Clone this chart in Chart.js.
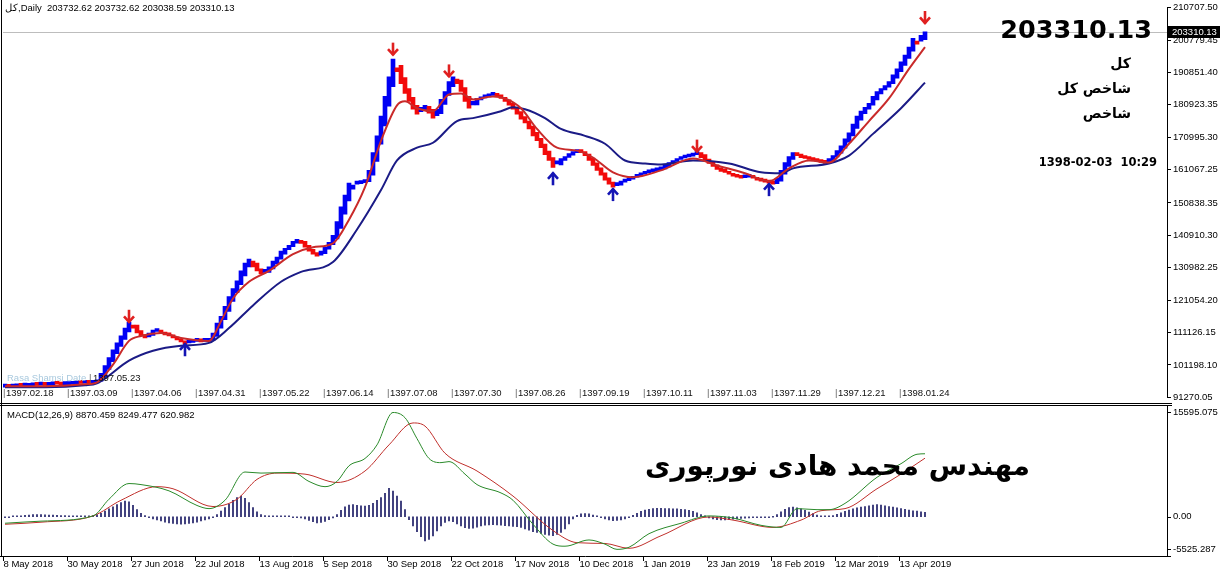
<!DOCTYPE html>
<html><head><meta charset="utf-8">
<script src="https://cdn.jsdelivr.net/npm/chart.js@4.4.1/dist/chart.umd.min.js"></script>
<style>
html,body{margin:0;padding:0;background:#fff;width:1220px;height:573px;overflow:hidden}
#c1{position:absolute;left:0;top:0}
#c2{position:absolute;left:0;top:405px}
</style></head><body>
<canvas id="c1" width="1220" height="405"></canvas>
<canvas id="c2" width="1220" height="168"></canvas>
<script>
// ---------------- DATA ----------------
// Heiken-Ashi style candles: body from opens[i] to closes[i]
const closes = [
94380,94350,94620,94700,94650,94690,94930,95010,94950,94980,94920,95240,95300,95260,95010,95280,95250,95540,95600,95560,95590,95530,95880,
96480,98590,101010,103430,105840,107960,110080,112490,114310,
112490,110980,110080,109470,
110980,111890,
111590,110980,110380,110080,109470,108870,108260,107660,
108560,108260,108560,108260,108560,108870,
110980,114000,116120,119140,122160,124580,127000,130020,132440,133650,
131230,130020,129110,
130020,131230,133040,134250,136060,136970,137880,139090,139690,
138480,137270,136060,135160,134550,
136060,137270,138780,
140900,145130,149660,153290,156920,
156310,157220,156920,157820,
160840,166280,171420,177470,183510,189550,194990,
191060,187440,184420,182000,179580,178070,
180190,180790,
178370,176860,
179580,182600,185020,188040,189550,
187440,185020,182000,179880,
182000,182910,183210,183510,184110,184420,
183510,182910,182000,180790,179580,178070,176560,
175350,173540,171420,169910,167800,165680,163870,161750,
163260,164470,165080,165980,166590,166890,
166280,165380,163870,162360,160840,159330,157820,156610,155710,
156920,157520,157820,158430,159030,159330,159940,160240,160540,160840,161150,161450,
162360,163260,163870,164470,164770,165080,165380,165980,166590,
164770,163870,162960,162050,161150,
160540,160240,159640,159030,158730,158430,
159030,158730,158430,157820,157520,157220,156920,156610,
158430,160840,163260,165080,166280,
165380,164770,164470,164170,163870,163560,163260,162960,
164470,165380,166890,168400,170510,172330,175050,177470,178980,180190,181390,183510,185020,185930,186830,188040,190160,191970,194090,196200,198620,201340,199530,202250,203310.13
];
const opens = [
94380,94380,94370,94490,94660,94680,94670,94810,94970,94980,94970,94950,95080,95270,95280,95140,95150,95270,95400,95570,95580,95580,95560,
95710,96180,97540,99800,102220,104640,106900,109020,111290,
113400,113400,111740,110530,
109780,110230,
111440,111740,111290,110680,110230,109780,109170,108570,
107960,108110,108410,108410,108410,108410,
108720,109930,112490,115060,117630,120650,123370,125790,128510,131230,
133050,132440,130630,
129570,129570,130630,132140,133650,135160,136520,137430,138490,
139390,139090,137880,136670,135610,
134860,135310,136670,
138030,139840,143020,147400,151480,
155110,156620,156770,157070,
157370,159330,163560,168850,174450,180490,186530,
192270,193030,189250,185930,183210,180790,
178830,179130,
180490,179580,
177620,178220,181090,183810,186530,
188800,188500,186230,183510,
180940,180940,182460,183060,183360,183810,
184270,183970,183210,182460,181400,180190,178830,
177320,175960,174450,172480,170670,168860,166740,164780,
162810,162510,163870,164780,165530,166290,
166740,166590,165830,164630,163120,161600,160090,158580,157220,
156160,156320,157220,157670,158130,158730,159180,159640,160090,160390,160690,161000,
161300,161910,162810,163570,164170,164620,164930,165230,165680,
166290,165680,164320,163420,162510,
161600,160850,160390,159940,159340,158880,
158580,158730,158880,158580,158130,157670,157370,157070,
156770,157520,159640,162050,164170,
165680,165830,165080,164620,164320,164020,163720,163410,
163110,163720,164930,166140,167650,169460,171420,173690,176260,178230,179590,180790,182450,184270,185480,186380,187440,189100,191070,193030,195150,197410,199980,200440,200890
];
const lastPrice = 203310.13;

const maFastBars = [0,10,20,23,27,31,34,39,44,51,54,57,61,66,72,77,82,86,90,94,98,100,103,107,111,114,117,122,125,129,133,138,143,147,152,157,164,172,178,185,191,196,201,206,211,216,221,226,230];
const maFastVals = [94662,94662,95267,95871,101310,108564,110075,110981,109470,108564,114607,121558,126696,130020,135157,137273,138482,145734,155707,169910,180789,181998,179883,178976,184113,184416,182602,183509,182905,179883,173536,167795,166888,164773,160240,158729,160844,164470,162355,159938,157520,161448,163866,163262,169004,175954,182905,191971,198619];

const maSlowBars = [0,10,20,23,31,37,44,51,56,62,69,74,82,88,94,98,103,107,113,117,124,127,130,135,139,145,150,155,160,164,172,181,189,194,197,206,211,217,224,230];
const maSlowVals = [94360,94360,94964,95569,102520,105541,107053,107959,112492,119443,126696,129718,132740,142712,154800,163866,167795,169306,175954,176861,178976,180185,179580,176861,173536,171421,169004,163866,162960,162657,163866,162960,160240,159938,161448,162960,165377,172026,179883,187741];

const downArrowBars = [31,97,111,173,230];
const downArrowVals = [115956,197848,191175,168124,207553];
const upArrowBars = [45,137,152,191];
const upArrowVals = [106000,158418,153564,155081];

const priceTicks = [210707.50,200779.45,190851.40,180923.35,170995.30,161067.25,150838.35,140910.30,130982.25,121054.20,111126.15,101198.10,91270.05];

const macdBars = [0,9,22,26,31,34,41,48,51,55,60,64,72,76,80,83,86,90,93,97,100,103,106,109,111,115,118,124,127,132,137,140,146,150,153,156,161,169,176,182,189,194,198,203,206,210,218,224,228,230];
const macdVals = [-912,-618,118,2471,4678,4531,3648,1589,1147,2324,6300,6150,6250,4972,4236,4972,7178,8208,10120,14680,13945,11003,8208,7620,7767,6002,4531,3354,2324,-1059,-3854,-4148,-3266,-3854,-4590,-4295,-2383,-912,118,-177,-1206,-1500,1147,1000,1000,1883,5560,7473,8800,8870.459];

const signalBars = [0,9,22,29,38,42,52,58,63,68,75,83,90,96,102,105,110,118,127,137,143,150,156,164,176,182,192,199,204,210,218,224,230];
const signalVals = [-1059,-765,118,2324,4236,3942,1442,2471,5266,6149,6002,4825,6443,10120,13209,12768,8944,6443,2913,-1942,-3650,-3760,-4442,-2677,-29,-471,-1500,-471,853,1147,3942,6002,8249.477];

const histVals = [
-50,-30,20,60,120,200,250,300,320,300,280,250,220,200,180,150,130,120,100,90,100,120,160,
300,500,800,1100,1400,1700,2000,2200,2100,1600,1000,500,
150,-100,-300,
-450,-600,-750,-850,-950,-1000,-1050,-1000,-950,-850,-750,-600,-450,-300,-100,
300,800,1300,1800,2300,2700,2900,2600,2000,1300,700,300,
150,80,50,30,60,40,20,-20,-50,-150,-300,-500,
-700,-850,-800,-650,-400,-150,
300,900,1400,1650,1700,1600,1550,1500,1600,1900,2300,2700,3300,4000,3600,2900,2200,1000,
-400,-1300,-2100,-2800,-3400,-3200,-2700,-2000,
-1300,-800,-600,-700,-1000,-1300,-1550,-1650,-1600,-1450,-1300,-1200,-1150,-1100,-1150,-1200,-1250,-1300,-1350,-1400,
-1500,-1700,-1900,-2100,-2200,-2350,-2500,-2600,-2650,-2500,-2200,-1700,-1000,-300,
200,400,450,400,250,100,-100,
-300,-450,-550,-500,-450,-300,-100,
200,500,750,950,1050,1150,1200,1200,1150,1150,1100,1100,1050,1000,900,750,550,
300,80,-150,-300,-400,-450,-450,-400,-350,-300,-250,-200,-150,-120,-100,-80,-60,-40,0,
300,700,1050,1300,1350,1250,1100,900,650,450,250,
120,50,20,150,350,550,750,950,1100,1250,1350,1450,1550,1650,1700,1650,1550,1450,1350,1250,1150,1050,950,850,800,700,621
];
const macdTicks = [15595.075, 0, -5525.287];
const macdMin = -5525.287, macdMax = 15595.075;

const labelStep = 16;
const shamsiLabels = ['1397.02.18','1397.03.09','1397.04.06','1397.04.31','1397.05.22','1397.06.14','1397.07.08','1397.07.30','1397.08.26','1397.09.19','1397.10.11','1397.11.03','1397.11.29','1397.12.21','1398.01.24'];
const gregLabels = ['8 May 2018','30 May 2018','27 Jun 2018','22 Jul 2018','13 Aug 2018','5 Sep 2018','30 Sep 2018','22 Oct 2018','17 Nov 2018','10 Dec 2018','1 Jan 2019','23 Jan 2019','18 Feb 2019','12 Mar 2019','13 Apr 2019'];

const headerText = 'کل,Daily  203732.62 203732.62 203038.59 203310.13';
const macdHeader = 'MACD(12,26,9) 8870.459 8249.477 620.982';
const bigPrice = '203310.13';
const nameLines = ['کل','شاخص کل','شاخص'];
const dateTimeText = '1398-02-03  10:29';
const authorText = 'مهندس محمد هادی نورپوری';
const shamsiIndicator = 'Rasa Shamsi Date';
const shamsiCurrent = '1397.05.23';

// ---------------- STYLE ----------------
const N_SLOTS = 291;
const BLUE = '#0000f4', RED = '#f20a0a';
const MT_FONT = "'Liberation Sans', Arial, sans-serif";
Chart.defaults.font.family = MT_FONT;
Chart.defaults.color = '#000';

function arrow(ctx, x, y, dir, color){
  ctx.save();
  ctx.strokeStyle = color; ctx.lineWidth = 2.6; ctx.lineJoin='miter';
  ctx.beginPath(); ctx.moveTo(x, y - 7*dir); ctx.lineTo(x, y + 5.5*dir); ctx.stroke();
  ctx.beginPath(); ctx.moveTo(x-5, y - 0.5*dir); ctx.lineTo(x, y + 5*dir); ctx.lineTo(x+5, y - 0.5*dir); ctx.stroke();
  ctx.restore();
}
function hline(ctx,y,x1,x2,c){ctx.save();ctx.strokeStyle=c||'#000';ctx.lineWidth=1;ctx.beginPath();ctx.moveTo(x1,y);ctx.lineTo(x2,y);ctx.stroke();ctx.restore();}
function vline(ctx,x,y1,y2,c){ctx.save();ctx.strokeStyle=c||'#000';ctx.lineWidth=1;ctx.beginPath();ctx.moveTo(x,y1);ctx.lineTo(x,y2);ctx.stroke();ctx.restore();}

const topDeco = {
  id:'topDeco',
  beforeDatasetsDraw(chart){
    const {ctx, chartArea:a, scales:{y}} = chart;
    const py = Math.round(y.getPixelForValue(lastPrice)) + 0.5;
    hline(ctx, py, a.left, a.right, '#bdbdbd');
  },
  afterDatasetsDraw(chart){
    const {ctx, scales:{x,y}} = chart;
    downArrowBars.forEach((b,k)=>arrow(ctx, x.getPixelForValue(b), y.getPixelForValue(downArrowVals[k]), 1, '#e02020'));
    upArrowBars.forEach((b,k)=>arrow(ctx, x.getPixelForValue(b), y.getPixelForValue(upArrowVals[k]), -1, '#1414b4'));
  },
  afterDraw(chart){
    const {ctx, chartArea:a, scales:{x,y}} = chart;
    ctx.save();
    ctx.textBaseline = 'middle';
    ctx.fillStyle = '#000';
    ctx.font = "9.5px " + MT_FONT;
    ctx.textAlign = 'left';
    ctx.fillText(headerText, 5, 8);
    shamsiLabels.forEach((t,k)=>{
      const px = x.getPixelForValue(k*labelStep);
      ctx.fillStyle = '#666'; ctx.fillText('|', px-2, 393);
      ctx.fillStyle = '#111'; ctx.fillText(t, px+1, 393);
    });
    ctx.fillStyle = '#a9c9de';
    ctx.fillText(shamsiIndicator, 7, 378);
    ctx.fillStyle = '#666'; ctx.fillText('|', 89, 378);
    ctx.fillStyle = '#111'; ctx.fillText(shamsiCurrent, 93, 378);
    ctx.fillStyle = '#000';
    ctx.textAlign = 'right';
    ctx.font = "bold 25.5px 'DejaVu Sans', sans-serif";
    ctx.fillText(bigPrice, 1152, 31);
    ctx.font = "bold 14px 'DejaVu Sans', sans-serif";
    ctx.fillText(nameLines[0], 1131, 64);
    ctx.fillText(nameLines[1], 1131, 89);
    ctx.fillText(nameLines[2], 1131, 114);
    ctx.font = "bold 11.5px 'DejaVu Sans', sans-serif";
    ctx.fillText(dateTimeText, 1157, 163);
    const py = Math.round(y.getPixelForValue(lastPrice));
    ctx.fillStyle = '#000';
    ctx.fillRect(1168, py-6, 52, 12);
    ctx.fillStyle = '#fff';
    ctx.textAlign = 'left';
    ctx.font = "9.5px " + MT_FONT;
    ctx.fillText(lastPrice.toFixed(2), 1172, py);
    ctx.restore();
    hline(ctx, 403.5, 0, 1172);
    vline(ctx, 1.5, 0, 405);
  }
};

const bottomDeco = {
  id:'bottomDeco',
  afterDraw(chart){
    const {ctx, chartArea:a, scales:{x,y}} = chart;
    ctx.save();
    ctx.textBaseline = 'middle';
    ctx.fillStyle = '#000';
    ctx.font = "9.5px " + MT_FONT;
    ctx.textAlign = 'left';
    ctx.fillText(macdHeader, 7, 10);
    vline(ctx, a.right+0.5, 0, a.bottom+1);
    hline(ctx, 0.5, 0, 1172);
    hline(ctx, a.bottom+0.5, 0, a.right+4);
    vline(ctx, 1.5, 0, a.bottom+1);
    macdTicks.forEach(v=>{
      const p = y.getPixelForValue(v);
      const ly = Math.min(Math.max(p, a.top+6), a.bottom-7);
      hline(ctx, Math.round(ly)+0.5, a.right, a.right+4);
      ctx.fillText(v === 0 ? '0.00' : v.toFixed(3), a.right+6, ly);
    });
    gregLabels.forEach((t,k)=>{
      const px = Math.round(x.getPixelForValue(k*labelStep)) - 1.5;
      vline(ctx, px, a.bottom, a.bottom+5);
      ctx.fillText(t, px, a.bottom+8);
    });
    ctx.font = "bold 40px 'DejaVu Sans', sans-serif";
    const w = ctx.measureText(authorText).width;
    const size = 40 * 385 / w;
    ctx.font = "bold " + size.toFixed(1) + "px 'DejaVu Sans', sans-serif";
    ctx.textAlign = 'left';
    ctx.textBaseline = 'alphabetic';
    ctx.fillText(authorText, 645, 70);
    ctx.restore();
  }
};

// ---------------- CHARTS ----------------
const candleData = closes.map((c,i)=>({x:i, y:[opens[i], c]}));
const candleColors = closes.map((c,i)=> c < opens[i] ? RED : BLUE);
const pts = (bars, vals) => bars.map((b,k)=>({x:b, y:vals[k]}));

new Chart(document.getElementById('c1'), {
  type:'bar',
  data:{datasets:[
    {type:'line', data:pts(maFastBars, maFastVals), borderColor:'#c92a2a', borderWidth:2, pointRadius:0, cubicInterpolationMode:'monotone', order:1},
    {type:'line', data:pts(maSlowBars, maSlowVals), borderColor:'#1b1b86', borderWidth:2, pointRadius:0, cubicInterpolationMode:'monotone', order:2},
    {type:'bar', data:candleData, backgroundColor:candleColors, barThickness:4, minBarLength:3, borderWidth:0, order:3}
  ]},
  options:{
    responsive:false, animation:false, events:[],
    layout:{padding:{left:3, top:5.6, bottom:5.6, right:0}},
    plugins:{legend:{display:false}, tooltip:{enabled:false}},
    scales:{
      x:{type:'linear', min:-0.5, max:N_SLOTS-0.5, display:false, offset:false},
      y:{position:'right', min:91270.05, max:210707.5,
         afterFit(s){ s.width = 53; },
         afterBuildTicks(s){ s.ticks = priceTicks.map(v=>({value:v})); },
         ticks:{autoSkip:false, padding:2, font:{size:9.5}, color:'#000', callback:v=>Number(v).toFixed(2)},
         grid:{drawOnChartArea:false, drawTicks:true, tickLength:4, color:'#000'},
         border:{display:true, color:'#000'}}
    }
  },
  plugins:[topDeco]
});

new Chart(document.getElementById('c2'), {
  type:'bar',
  data:{datasets:[
    {type:'line', data:pts(macdBars, macdVals), borderColor:'#2a8a2a', borderWidth:1, pointRadius:0, cubicInterpolationMode:'monotone', order:1},
    {type:'line', data:pts(signalBars, signalVals), borderColor:'#c0302c', borderWidth:1, pointRadius:0, cubicInterpolationMode:'monotone', order:2},
    {type:'bar', data:histVals.map((v,i)=>({x:i, y:v})), backgroundColor:'#1c1c66', barThickness:1, minBarLength:1, borderWidth:0, order:3}
  ]},
  options:{
    responsive:false, animation:false, events:[],
    layout:{padding:{left:3, top:1, bottom:17, right:53}},
    plugins:{legend:{display:false}, tooltip:{enabled:false}},
    scales:{
      x:{type:'linear', min:-0.5, max:N_SLOTS-0.5, display:false, offset:false},
      y:{min:macdMin, max:macdMax, display:false}
    }
  },
  plugins:[bottomDeco]
});
</script>
</body></html>
